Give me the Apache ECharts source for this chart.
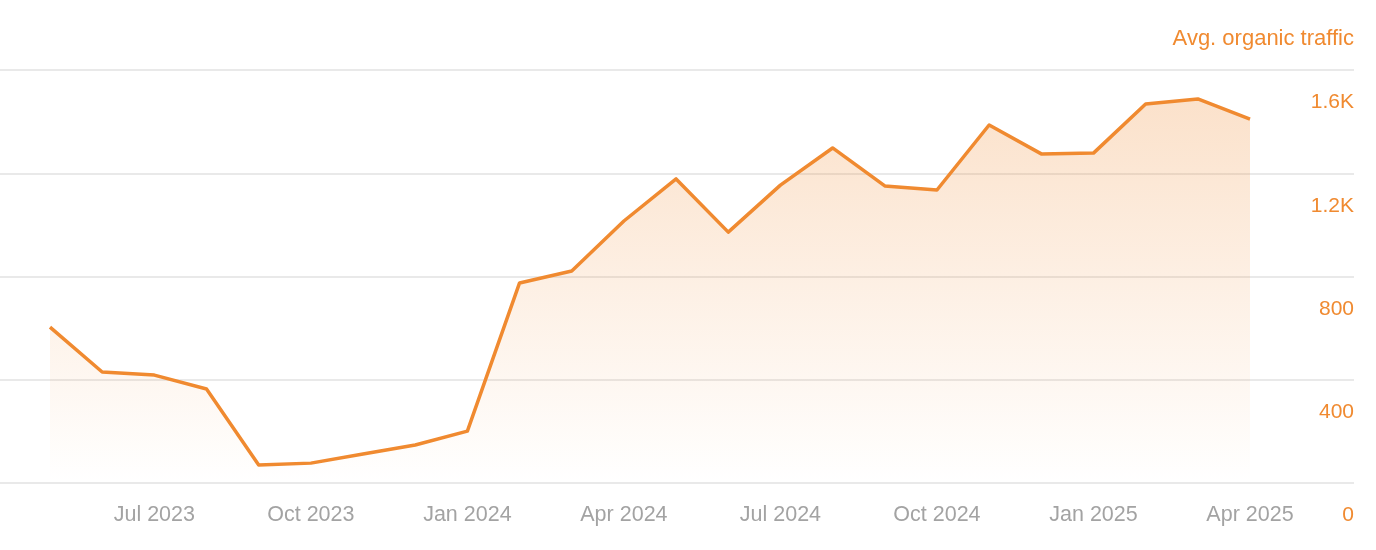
<!DOCTYPE html>
<html>
<head>
<meta charset="utf-8">
<script src="https://cdn.jsdelivr.net/npm/echarts@6/dist/echarts.min.js"></script>
<style>
html,body{margin:0;padding:0;background:#fff;}
#chart{width:1376px;height:550px;}
</style>
</head>
<body>
<div id="chart"></div>
<script>
const months = ['May 2023','Jun 2023','Jul 2023','Aug 2023','Sep 2023','Oct 2023','Nov 2023','Dec 2023',
  'Jan 2024','Feb 2024','Mar 2024','Apr 2024','May 2024','Jun 2024','Jul 2024','Aug 2024','Sep 2024','Oct 2024',
  'Nov 2024','Dec 2024','Jan 2025','Feb 2025','Mar 2025','Apr 2025'];
const traffic = [604, 430, 418, 364, 70, 77, 112, 147, 201, 775, 821, 1015, 1178, 972, 1154, 1298, 1151, 1135,
  1387, 1275, 1278, 1468, 1488, 1410];
const shownMonthLabels = ['Jul 2023','Oct 2023','Jan 2024','Apr 2024','Jul 2024','Oct 2024','Jan 2025','Apr 2025'];
const yTicks = [0, 400, 800, 1200, 1600];
const yTickLabels = ['0', '400', '800', '1.2K', '1.6K'];
const seriesName = 'Avg. organic traffic';

const ORANGE = '#F08A30';
const FONT = '"Liberation Sans", Arial, Helvetica, sans-serif';

const chart = echarts.init(document.getElementById('chart'), null, {renderer: 'canvas'});
chart.setOption({
  animation: false,
  backgroundColor: '#fff',
  title: {
    text: seriesName,
    right: 17, top: 23,
    textStyle: {color: ORANGE, fontSize: 22, fontWeight: 'normal', fontFamily: FONT}
  },
  grid: [
    {left: 0, right: 22, top: 70, bottom: 67},
    {left: 50, right: 126, top: 70, bottom: 67}
  ],
  xAxis: [
    {gridIndex: 0, type: 'value', min: 0, max: 1, show: false},
    {
      gridIndex: 1, type: 'category', data: months, boundaryGap: false,
      axisLine: {show: false}, axisTick: {show: false}, splitLine: {show: false},
      axisLabel: {
        color: '#A3A3A3', fontSize: 21.5, fontFamily: FONT, margin: 21,
        interval: (i, v) => shownMonthLabels.indexOf(v) >= 0,
        showMinLabel: true, showMaxLabel: true, hideOverlap: false
      }
    }
  ],
  yAxis: [
    {
      gridIndex: 0, type: 'value', position: 'right', min: yTicks[0], max: yTicks[yTicks.length - 1], interval: 400,
      axisLine: {show: false}, axisTick: {show: false},
      splitLine: {show: true, lineStyle: {color: '#E9E9E9', width: 2}},
      axisLabel: {
        inside: true, margin: 0, color: ORANGE, fontSize: 21, fontFamily: FONT,
        verticalAlign: 'top', padding: [22, 0, 0, 0],
        formatter: v => yTickLabels[yTicks.indexOf(v)]
      }
    },
    {gridIndex: 1, type: 'value', min: yTicks[0], max: yTicks[yTicks.length - 1], show: false, splitLine: {show: false}}
  ],
  series: [{
    name: seriesName, type: 'line', xAxisIndex: 1, yAxisIndex: 1,
    data: traffic, symbol: 'none', smooth: false,
    lineStyle: {color: ORANGE, width: 3.5, join: 'round'},
    areaStyle: {
      color: new echarts.graphic.LinearGradient(0, 0, 0, 1, [
        {offset: 0, color: 'rgba(240,138,48,0.36)'},
        {offset: 1, color: 'rgba(240,138,48,0.0)'}
      ])
    }
  }]
});
</script>
</body>
</html>
